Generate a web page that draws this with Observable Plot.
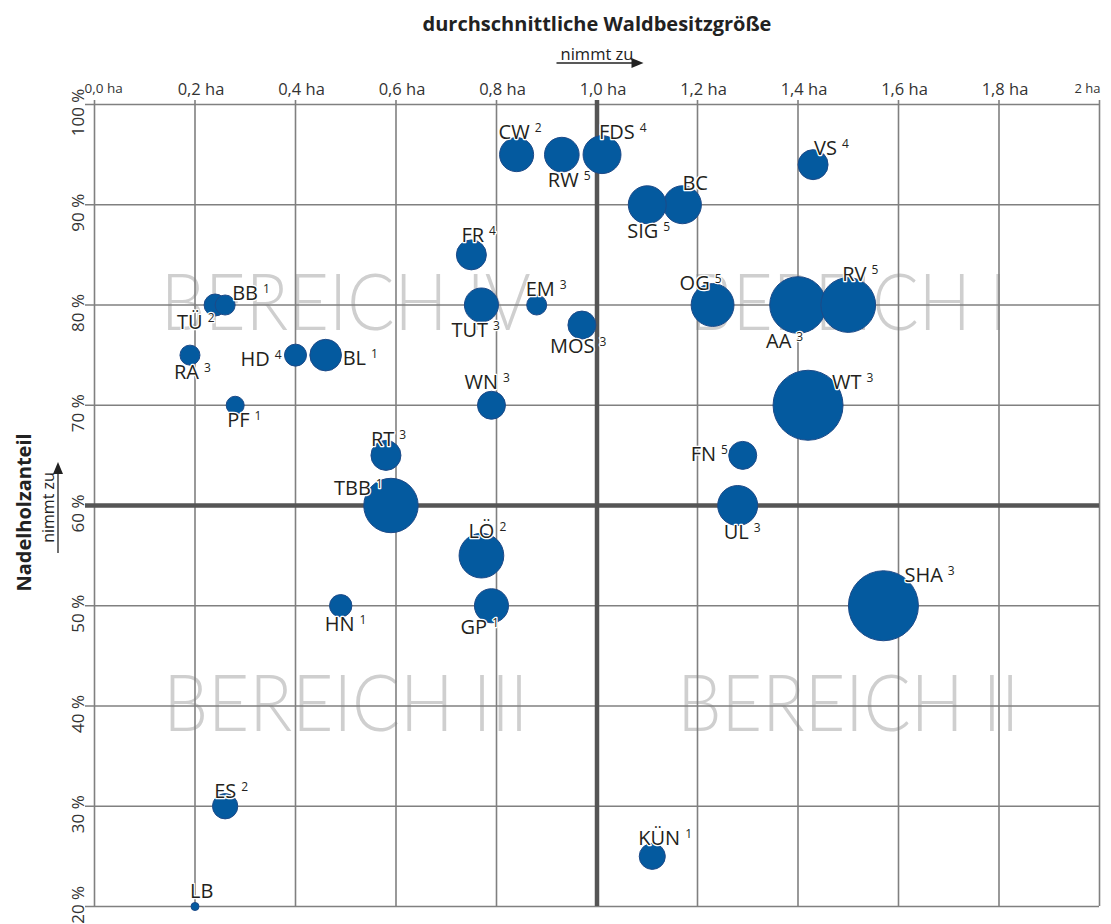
<!DOCTYPE html>
<html>
<head>
<meta charset="utf-8">
<script src="https://cdn.jsdelivr.net/npm/d3@7"></script>
<script src="https://cdn.jsdelivr.net/npm/@observablehq/plot@0.6"></script>
<style>
  html, body { margin: 0; padding: 0; background: #fff; }
  #chart svg { display: block; }
</style>
</head>
<body>
<div id="chart"></div>
<script>
// ---------- data ----------
const names     = ["CW","RW","FDS","BC","SIG","VS","FR","EM","TUT","MOS","OG","AA","RV","BB","TÜ","RA","HD","BL","PF","WN","WT","RT","FN","TBB","UL","LÖ","SHA","HN","GP","ES","KÜN","LB"];
const sizeHa    = [0.84,0.93,1.01,1.17,1.10,1.43,0.75,0.88,0.77,0.97,1.23,1.40,1.50,0.26,0.24,0.19,0.40,0.46,0.28,0.79,1.42,0.58,1.29,0.59,1.28,0.77,1.57,0.49,0.79,0.26,1.11,0.20];
const nadelholz = [95,95,95,90,90,94,85,80,80,78,80,80,80,80,80,75,75,75,70,70,70,65,65,60,60,55,50,50,50,30,25,20];
const flaeche   = [290,300,360,360,360,225,225,100,290,196,460,800,750,100,121,100,121,250,81,196,1225,225,196,740,400,500,1225,125,290,160,170,16];
const notes     = ["2","5","4","","5","4","4","3","3","3","5","3","5","1","2","3","4","1","1","3","3","3","5","1","3","2","3","1","1","2","1",""];

const xTickValues = [0,0.2,0.4,0.6,0.8,1.0,1.2,1.4,1.6,1.8,2];
const xTickLabels = ["0,0 ha","0,2 ha","0,4 ha","0,6 ha","0,8 ha","1,0 ha","1,2 ha","1,4 ha","1,6 ha","1,8 ha","2 ha"];
const yTickValues = [20,30,40,50,60,70,80,90,100];
const yTickLabels = ["<=20 %","30 %","40 %","50 %","60 %","70 %","80 %","90 %","100 %"];

const xSplit = 1.0;   // Trennlinie Waldbesitzgröße
const ySplit = 60;    // Trennlinie Nadelholzanteil

const bereichLabels = ["BEREICH IV","BEREICH I","BEREICH III","BEREICH II"];
const bereichX = [0.5,1.5,0.5,1.5];
const bereichY = [80,80,40,40];

const xTitle = "durchschnittliche Waldbesitzgröße";
const yTitle = "Nadelholzanteil";
const trendText = "nimmt zu";

// ---------- layout (not data) ----------
const labelOffsets = {
  CW:[-18,-22], RW:[-14,26], FDS:[-3,-22], BC:[0,-21], SIG:[-20,27], VS:[1,-16],
  FR:[-10,-19], EM:[-11,-15], TUT:[-30,26], MOS:[-32,22], OG:[-33,-21], AA:[-32,37],
  RV:[-6,-30], BB:[7,-11], "TÜ":[-38,18], RA:[-16,17], HD:[-55,4], BL:[17,3],
  PF:[-8,15], WN:[-27,-23], WT:[24,-23], RT:[-15,-16], FN:[-52,-1], TBB:[-57,-17],
  UL:[-14,27], "LÖ":[-13,-24], SHA:[21,-30], HN:[-16,19], GP:[-31,22], ES:[-11,-15],
  "KÜN":[-14,-18], LB:[-5,-15]
};
const bereichLength = {"BEREICH IV":370, "BEREICH I":318, "BEREICH III":365, "BEREICH II":342};

const F = "'Open Sans', 'Noto Sans', sans-serif";

const data = names.map((n, i) => ({name: n, ha: sizeHa[i], pct: nadelholz[i], area: flaeche[i], note: notes[i]}));
const xTicks = xTickValues.map((v, i) => ({v, label: xTickLabels[i]}));
const yTicks = yTickValues.map((v, i) => ({v, label: yTickLabels[i]}));
const bereich = bereichLabels.map((t, i) => ({t, x: bereichX[i], y: bereichY[i]}));
const lastX = xTicks.length - 1;

const gridColor = "#808080";

const labelMarks = data.map(d => Plot.text([d], {
  x: "ha", y: "pct", text: "name",
  dx: labelOffsets[d.name][0], dy: labelOffsets[d.name][1],
  textAnchor: "start", lineAnchor: "middle",
  fontSize: 20, fontFamily: F, fill: "#231f20",
  stroke: "white", strokeWidth: 2.5
}));

const chart = Plot.plot({
  width: 1111,
  height: 924,
  marginLeft: 94,
  marginRight: 12,
  marginTop: 104,
  marginBottom: 18,
  style: {fontFamily: F, background: "#fff"},
  x: {domain: [0, 2], axis: null},
  y: {domain: [20, 100], axis: null},
  r: {type: "sqrt", domain: [0, 1225], range: [0, 35]},
  marks: [
    // background area labels (text mark #0)
    Plot.text(bereich, {
      x: "x", y: "y", text: "t", fontSize: 78, fontFamily: "Lato, 'Open Sans', sans-serif", fontWeight: 300,
      fill: "#cfcfcf", textAnchor: "middle", lineAnchor: "middle"
    }),
    // grid
    Plot.ruleX(xTickValues, {stroke: gridColor, strokeWidth: 1.6, insetTop: -4}),
    Plot.ruleY(yTickValues, {stroke: gridColor, strokeWidth: 1.6, insetLeft: -9}),
    Plot.ruleX([xSplit], {stroke: "#555", strokeWidth: 4.5, insetTop: -4}),
    Plot.ruleY([ySplit], {stroke: "#555", strokeWidth: 4.5, insetLeft: -9}),
    // bubbles
    Plot.dot(data, {x: "ha", y: "pct", r: "area", fill: "#045a9f", stroke: "#1d4a88", strokeWidth: 1, fillOpacity: 1}),
    // bubble labels (text marks #1..#n)
    ...labelMarks,
    // x tick labels
    Plot.text(xTicks, {filter: (d, i) => i > 0 && i < lastX, x: "v", text: "label", frameAnchor: "top",
      dy: -10, dx: 6, lineAnchor: "bottom", textAnchor: "middle", fontSize: 16.5, fill: "#333"}),
    Plot.text(xTicks, {filter: (d, i) => i === 0, x: "v", text: "label", frameAnchor: "top",
      dy: -12, dx: -10, lineAnchor: "bottom", textAnchor: "start", fontSize: 13.5, fill: "#333"}),
    Plot.text(xTicks, {filter: (d, i) => i === lastX, x: "v", text: "label", frameAnchor: "top",
      dy: -12, dx: 1, lineAnchor: "bottom", textAnchor: "end", fontSize: 13, fill: "#333"}),
    // y tick labels
    Plot.text(yTicks, {y: "v", text: "label", frameAnchor: "left", rotate: -90,
      dx: -11, dy: 8, lineAnchor: "bottom", textAnchor: "middle", fontSize: 17, fill: "#333"}),
    // titles
    Plot.text([xTitle], {frameAnchor: "top", dy: -74, lineAnchor: "bottom", textAnchor: "middle",
      fontSize: 20, fontWeight: "bold", fill: "#222"}),
    Plot.text([trendText], {frameAnchor: "top", dy: -45, lineAnchor: "bottom", textAnchor: "middle",
      fontSize: 16.5, fill: "#222"}),
    Plot.text([yTitle], {frameAnchor: "left", rotate: -90, dx: -64, dy: 7, lineAnchor: "bottom",
      textAnchor: "middle", fontSize: 20, fontWeight: "bold", fill: "#222"}),
    Plot.text([trendText], {frameAnchor: "left", rotate: -90, dx: -41, dy: 2, lineAnchor: "bottom",
      textAnchor: "middle", fontSize: 16, fill: "#222"})
  ]
});

document.getElementById("chart").append(chart);

const svg = d3.select(chart);
const textGroups = svg.selectAll('g[aria-label="text"]').nodes();

// compress area labels to the reference widths
d3.select(textGroups[0]).selectAll("text").each(function() {
  const t = this.textContent;
  if (bereichLength[t]) d3.select(this).attr("textLength", bereichLength[t]).attr("lengthAdjust", "spacingAndGlyphs");
});

// superscript notes behind labels
data.forEach((d, i) => {
  const g = textGroups[i + 1];
  if (!g || !d.note) return;
  d3.select(g).select("text").append("tspan").attr("dx", 5).attr("dy", -7).attr("font-size", 12).text(d.note);
});

// "nimmt zu" arrows
const xs = (v) => chart.scale("x").apply(v);
const ys = (v) => chart.scale("y").apply(v);
const ax = xs(xSplit);
const arrows = svg.append("g").attr("fill", "#222").attr("stroke", "#222");
arrows.append("line").attr("x1", ax - 40).attr("x2", ax + 37).attr("y1", 63).attr("y2", 63).attr("stroke-width", 1.3);
arrows.append("path").attr("stroke", "none").attr("d", `M${ax + 47},63L${ax + 35},58L${ax + 35},68Z`);
const ay = ys(ySplit);
arrows.append("line").attr("x1", 58).attr("x2", 58).attr("y1", ay + 48).attr("y2", ay - 33).attr("stroke-width", 1.3);
arrows.append("path").attr("stroke", "none").attr("d", `M58,${ay - 43}L53,${ay - 31}L63,${ay - 31}Z`);
</script>
</body>
</html>
